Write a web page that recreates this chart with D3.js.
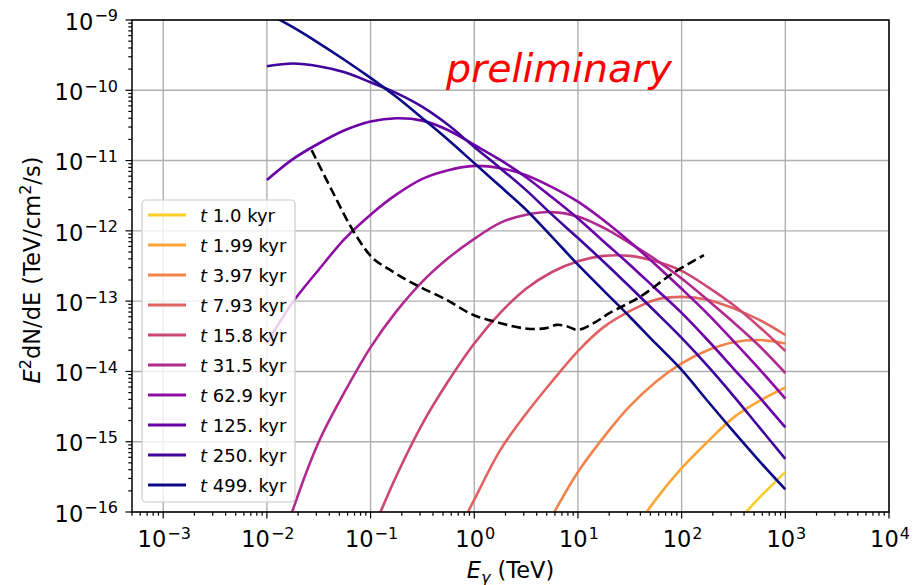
<!DOCTYPE html>
<html>
<head>
<meta charset="utf-8">
<script src="https://cdn.jsdelivr.net/npm/d3@7"></script>
<style>
  body { margin: 0; background: #ffffff; }
  svg { display: block; }
  text { font-family: "DejaVu Sans", sans-serif; }
</style>
</head>
<body>
<svg id="chart" width="923" height="585"></svg>
<script>
// Photon energies (TeV) shared by all model spectra: quarter-decade steps 0.01 .. 1000
const energyTeV = [0.01, 0.0178, 0.0316, 0.0562, 0.1, 0.178, 0.316, 0.562, 1, 1.78, 3.16,
                   5.62, 10, 17.8, 31.6, 56.2, 100, 178, 316, 562, 1000];

// Source ages shown in the legend (kyr)
const ageLabels = ["1.0", "1.99", "3.97", "7.93", "15.8", "31.5", "62.9", "125.", "250.", "499."];

// E^2 dN/dE (TeV/cm^2/s) for each age; null where the model lies far below the plot
const fluxAge1_0 = [null, null, null, null, null, null, null, null, null, null, null,
                    null, null, null, null, null, null, null, 6.3e-17, 1.6e-16, 3.7e-16];
const fluxAge1_99 = [null, null, null, null, null, null, null, null, null, null, null,
                     null, null, null, 4.5e-17, 1.5e-16, 4.2e-16, 1.0e-15, 2.2e-15, 3.8e-15, 5.9e-15];
const fluxAge3_97 = [null, null, null, null, null, null, null, null, null, null, null,
                     8.7e-17, 3.7e-16, 1.17e-15, 3.2e-15, 7.1e-15, 1.3e-14, 2.0e-14, 2.6e-14, 2.8e-14, 2.5e-14];
const fluxAge7_93 = [null, null, null, null, null, null, null, 2.8e-17, 1.5e-16, 7.6e-16, 2.5e-15,
                     7.2e-15, 1.95e-14, 4.3e-14, 7.2e-14, 1.05e-13, 1.15e-13, 1.05e-13, 7.9e-14, 5.4e-14, 3.3e-14];
const fluxAge15_8 = [null, null, null, null, 4.6e-17, 3.3e-16, 1.8e-15, 7.3e-15, 2.5e-14, 6.8e-14, 1.5e-13,
                     2.6e-13, 3.7e-13, 4.4e-13, 4.4e-13, 3.7e-13, 2.7e-13, 1.6e-13, 8.8e-14, 4.3e-14, 1.95e-14];
const fluxAge31_5 = [6.6e-18, 1.07e-16, 9.9e-16, 5.1e-15, 2.2e-14, 7.2e-14, 1.9e-13, 4.1e-13, 7.7e-13, 1.3e-12, 1.7e-12,
                     1.85e-12, 1.6e-12, 1.1e-12, 6.7e-13, 3.9e-13, 2.1e-13, 1.04e-13, 5.0e-14, 2.3e-14, 9.5e-15];
const fluxAge62_9 = [2.5e-14, 9.7e-14, 2.8e-13, 7.7e-13, 1.7e-12, 3.3e-12, 5.5e-12, 7.3e-12, 8.4e-12, 7.8e-12, 6.2e-12,
                     4.2e-12, 2.6e-12, 1.4e-12, 7.0e-13, 3.3e-13, 1.5e-13, 6.6e-14, 2.7e-14, 1.08e-14, 4.1e-15];
const fluxAge125 = [5.3e-12, 1.05e-11, 1.75e-11, 2.7e-11, 3.6e-11, 4.0e-11, 3.7e-11, 2.7e-11, 1.67e-11, 1.02e-11, 5.8e-12,
                    3.0e-12, 1.5e-12, 7.0e-13, 3.3e-13, 1.5e-13, 6.8e-14, 2.8e-14, 1.1e-14, 4.3e-15, 1.6e-15];
const fluxAge250 = [2.2e-10, 2.4e-10, 2.2e-10, 1.8e-10, 1.3e-10, 9.1e-11, 5.8e-11, 3.2e-11, 1.56e-11, 7.8e-12, 3.8e-12,
                    1.7e-12, 7.9e-13, 3.6e-13, 1.6e-13, 7.0e-14, 3.0e-14, 1.2e-14, 4.5e-15, 1.6e-15, 5.7e-16];
const fluxAge499 = [1.26e-9, 7.9e-10, 4.7e-10, 2.7e-10, 1.5e-10, 8.0e-11, 4.0e-11, 1.96e-11, 9.2e-12, 4.3e-12, 2.0e-12,
                    8.2e-13, 3.3e-13, 1.4e-13, 6.0e-14, 2.5e-14, 1.05e-14, 3.8e-15, 1.4e-15, 5.3e-16, 2.1e-16];

// Instrument sensitivity curve (dashed)
const sensEnergyTeV = [0.027, 0.043, 0.070, 0.105, 0.153, 0.223, 0.298, 0.543, 0.97, 1.76, 3.07,
                       4.8, 6.25, 7.8, 10.0, 14.6, 20.3, 39.6, 82.6, 164];
const sensFlux = [1.41e-11, 3.6e-12, 9.3e-13, 4.1e-13, 2.8e-13, 2.0e-13, 1.6e-13, 1.04e-13, 6.4e-14, 4.9e-14, 4.1e-14,
                  4.1e-14, 4.6e-14, 4.4e-14, 3.9e-14, 5.0e-14, 6.8e-14, 1.15e-13, 2.5e-13, 4.5e-13];

// Axis ticks
const xMajorTicks = [1e-3, 1e-2, 1e-1, 1e0, 1e1, 1e2, 1e3, 1e4];
const yMajorTicks = [1e-16, 1e-15, 1e-14, 1e-13, 1e-12, 1e-11, 1e-10, 1e-9];

const seriesFlux = [fluxAge1_0, fluxAge1_99, fluxAge3_97, fluxAge7_93, fluxAge15_8,
                    fluxAge31_5, fluxAge62_9, fluxAge125, fluxAge250, fluxAge499];

// ---------------------------------------------------------------------------
const svg = d3.select("#chart");
const plot = { left: 132, right: 889, top: 20, bottom: 512 };

const x = d3.scaleLog().domain([5e-4, 1e4]).range([plot.left, plot.right]);
const y = d3.scaleLog().domain([1e-16, 1e-9]).range([plot.bottom, plot.top]);

const colorFor = i => d3.interpolatePlasma(0.9 - 0.1 * i);
const baseFont = 22.5, supFont = 16;

svg.append("defs").append("clipPath").attr("id", "plotClip")
  .append("rect")
  .attr("x", plot.left).attr("y", plot.top)
  .attr("width", plot.right - plot.left).attr("height", plot.bottom - plot.top);

// Grid
const grid = svg.append("g").attr("stroke", "#b0b0b0").attr("stroke-width", 1.4);
xMajorTicks.forEach(v => {
  grid.append("line").attr("x1", x(v)).attr("x2", x(v)).attr("y1", plot.top).attr("y2", plot.bottom);
});
yMajorTicks.forEach(v => {
  grid.append("line").attr("x1", plot.left).attr("x2", plot.right).attr("y1", y(v)).attr("y2", y(v));
});

// Model spectra
const curves = svg.append("g").attr("clip-path", "url(#plotClip)");
const line = d3.line()
  .defined(d => d[1] != null)
  .x(d => x(d[0]))
  .y(d => y(d[1]))
  .curve(d3.curveCatmullRom.alpha(0.5));

seriesFlux.forEach((vals, i) => {
  const pts = energyTeV.map((e, k) => [e, vals[k]]);
  curves.append("path")
    .attr("d", line(pts))
    .attr("fill", "none")
    .attr("stroke", colorFor(i))
    .attr("stroke-width", 2.6)
    .attr("stroke-linejoin", "round");
});

// Sensitivity
curves.append("path")
  .attr("d", line(sensEnergyTeV.map((e, k) => [e, sensFlux[k]])))
  .attr("fill", "none")
  .attr("stroke", "#000")
  .attr("stroke-width", 2.6)
  .attr("stroke-dasharray", "9.5,4.5");

// Spines
svg.append("rect")
  .attr("x", plot.left).attr("y", plot.top)
  .attr("width", plot.right - plot.left).attr("height", plot.bottom - plot.top)
  .attr("fill", "none").attr("stroke", "#000").attr("stroke-width", 1.5);

// Ticks
const ticks = svg.append("g").attr("stroke", "#000").attr("stroke-width", 1.2);
const minorOf = (lo, hi, dom) => {
  const out = [];
  for (let p = lo; p < hi; p++) {
    for (let m = 2; m <= 9; m++) {
      const v = m * Math.pow(10, p);
      if (v >= dom[0] && v <= dom[1]) out.push(v);
    }
  }
  return out;
};
xMajorTicks.forEach(v => ticks.append("line")
  .attr("x1", x(v)).attr("x2", x(v)).attr("y1", plot.bottom).attr("y2", plot.bottom + 6.5));
minorOf(-4, 4, x.domain()).forEach(v => ticks.append("line")
  .attr("x1", x(v)).attr("x2", x(v)).attr("y1", plot.bottom).attr("y2", plot.bottom + 3.7));
yMajorTicks.forEach(v => ticks.append("line")
  .attr("x1", plot.left - 6.5).attr("x2", plot.left).attr("y1", y(v)).attr("y2", y(v)));
minorOf(-16, -9, y.domain()).forEach(v => ticks.append("line")
  .attr("x1", plot.left - 3.7).attr("x2", plot.left).attr("y1", y(v)).attr("y2", y(v)));

// Tick labels: 10^n
const expText = v => {
  const n = Math.round(Math.log10(v));
  return (n < 0 ? "\u2212" : "") + Math.abs(n);
};
xMajorTicks.forEach(v => {
  const t = svg.append("text").attr("x", x(v) + 1).attr("y", 547)
    .attr("text-anchor", "middle").attr("font-size", baseFont).attr("fill", "#000");
  t.append("tspan").text("10");
  t.append("tspan").attr("dy", -8.5).attr("dx", 1).attr("font-size", supFont).text(expText(v));
});
yMajorTicks.forEach(v => {
  const t = svg.append("text").attr("x", 118).attr("y", y(v) + 9.7)
    .attr("text-anchor", "end").attr("font-size", baseFont).attr("fill", "#000");
  t.append("tspan").text("10");
  t.append("tspan").attr("dy", -8.3).attr("dx", 1).attr("font-size", supFont).text(expText(v));
});

// Axis titles
const xt = svg.append("text").attr("x", (plot.left + plot.right) / 2).attr("y", 578)
  .attr("text-anchor", "middle").attr("font-size", baseFont).attr("fill", "#000");
xt.append("tspan").attr("font-style", "italic").text("E");
xt.append("tspan").attr("font-style", "italic").attr("font-size", supFont).attr("dy", 4.5).text("\u03b3");
xt.append("tspan").attr("dy", -4.5).text(" (TeV)");

const yt = svg.append("text")
  .attr("transform", `translate(40,${(plot.top + plot.bottom) / 2 + 4}) rotate(-90)`)
  .attr("text-anchor", "middle").attr("font-size", baseFont).attr("fill", "#000");
yt.append("tspan").attr("font-style", "italic").text("E");
yt.append("tspan").attr("font-size", supFont).attr("dy", -9).text("2");
yt.append("tspan").attr("dy", 9).text("dN/dE (TeV/cm");
yt.append("tspan").attr("font-size", supFont).attr("dy", -9).text("2");
yt.append("tspan").attr("dy", 9).text("/s)");

// Watermark
svg.append("text").attr("x", 446).attr("y", 82)
  .attr("font-family", "'Liberation Sans', Arial, sans-serif")
  .attr("font-style", "italic").attr("font-size", 39.5).attr("fill", "#ff0000")
  .text("preliminary");

// Legend
const lg = svg.append("g");
lg.append("rect").attr("x", 142).attr("y", 200).attr("width", 153).attr("height", 302)
  .attr("rx", 4).attr("fill", "#fff").attr("fill-opacity", 0.8)
  .attr("stroke", "#cccccc").attr("stroke-width", 1.2);
ageLabels.forEach((lab, i) => {
  const cy = 215 + i * 30;
  lg.append("line").attr("x1", 148).attr("x2", 186).attr("y1", cy).attr("y2", cy)
    .attr("stroke", colorFor(i)).attr("stroke-width", 2.8);
  const t = lg.append("text").attr("x", 200).attr("y", cy + 6.8)
    .attr("font-size", 18).attr("fill", "#000");
  t.append("tspan").attr("font-style", "italic").text("t");
  t.append("tspan").text(" " + lab + " kyr");
});
</script>
</body>
</html>
